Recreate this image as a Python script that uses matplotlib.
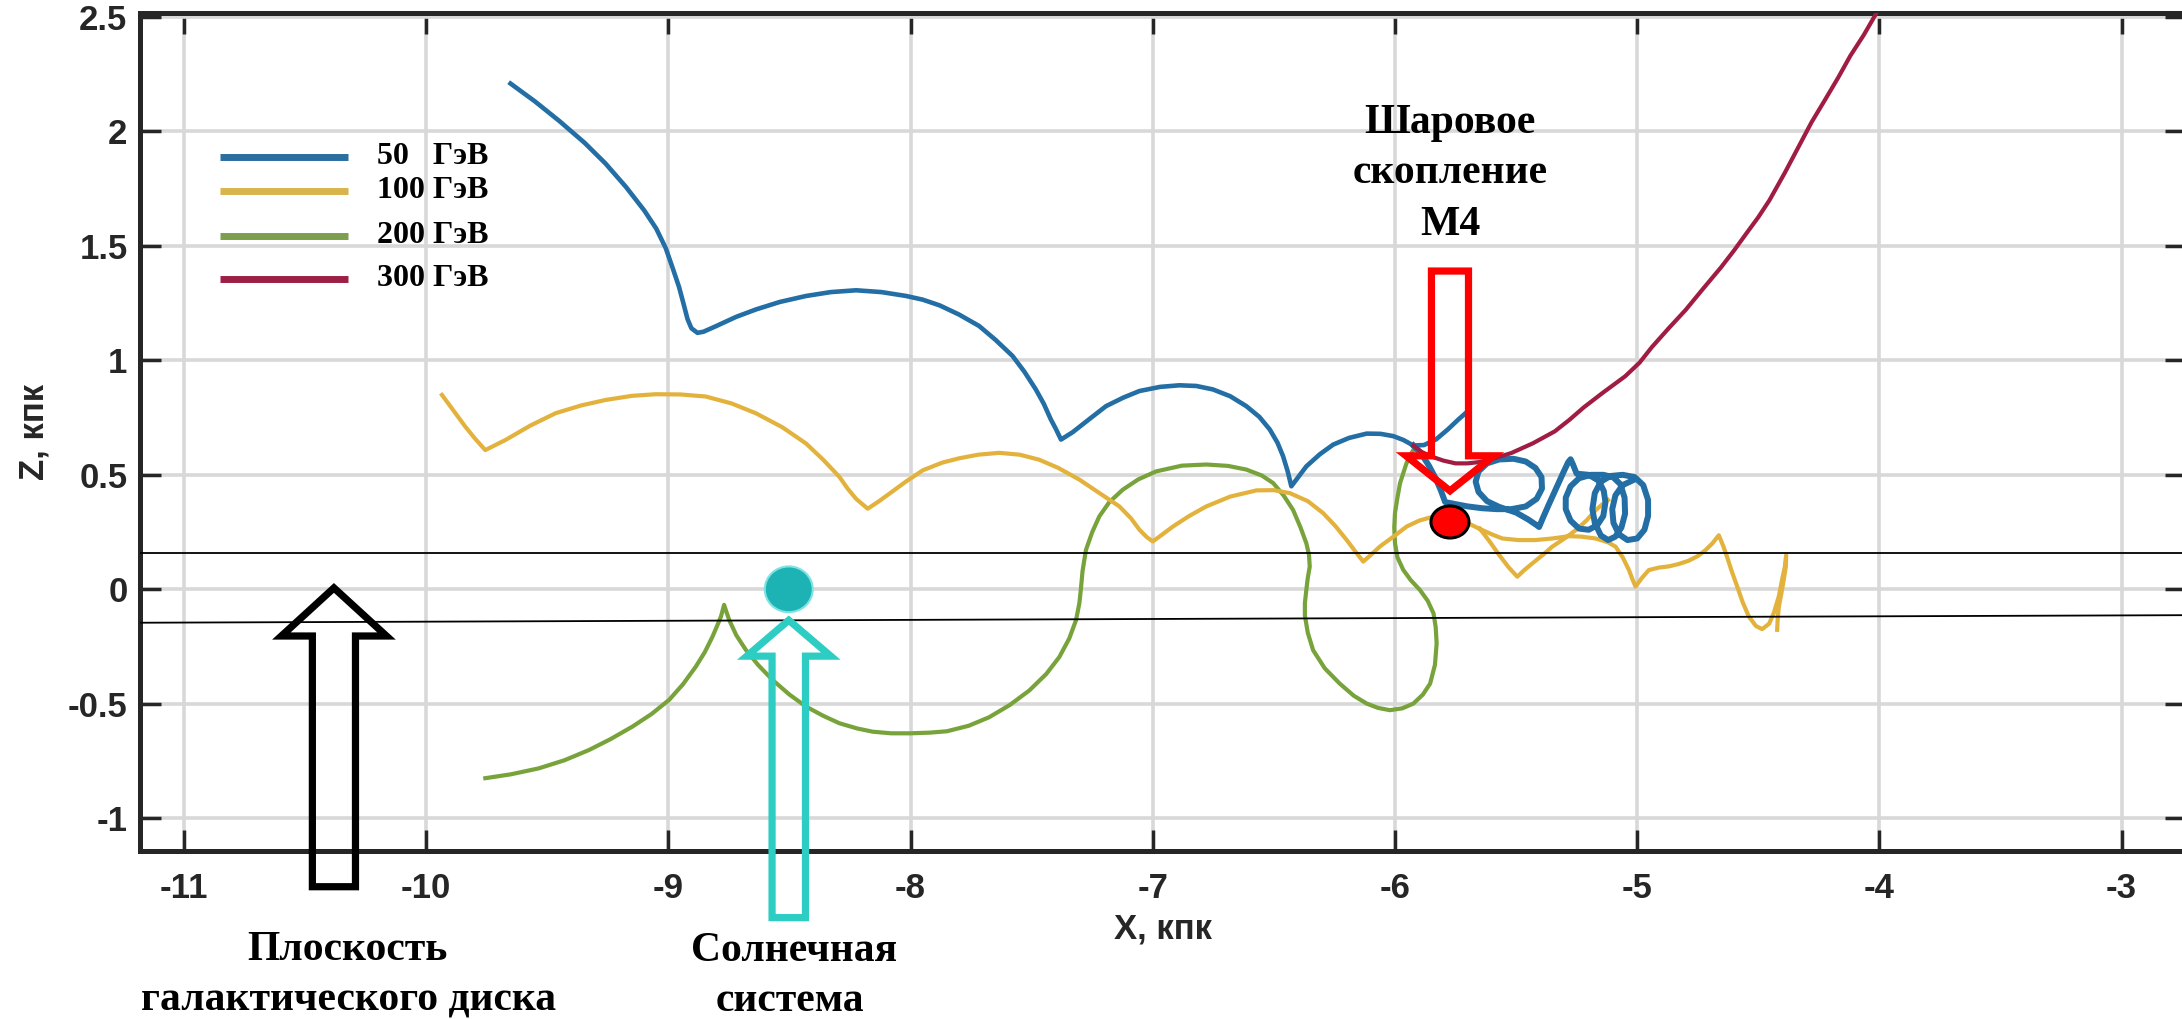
import matplotlib
matplotlib.use('Agg')
import matplotlib.pyplot as plt
import numpy as np
from matplotlib.patches import FancyArrow, Ellipse

plt.rcParams['axes.unicode_minus'] = False
plt.rcParams['font.family'] = ['Liberation Sans', 'DejaVu Sans']

nan = np.nan

# 50 GeV trajectory (x, z in kpc): arcs, then the tight loops near M4, then a short branch
x50_arcs = [-9.652, -9.550, -9.450, -9.346, -9.260, -9.175, -9.100, -9.050, -9.011, -8.983,
            -8.956, -8.937, -8.921, -8.905, -8.880, -8.855, -8.804, -8.720, -8.639, -8.540,
            -8.432, -8.330, -8.225, -8.120, -8.018, -7.950, -7.880, -7.800, -7.717, -7.650,
            -7.579, -7.530, -7.483, -7.450, -7.421, -7.400, -7.379, -7.331, -7.260, -7.193,
            -7.120, -7.055, -6.970, -6.890, -6.820, -6.752, -6.680, -6.614, -6.560, -6.517,
            -6.485, -6.462, -6.443, -6.428, -6.366, -6.310, -6.255, -6.190, -6.117, -6.060,
            -6.007, -5.965, -5.924]
z50_arcs = [2.209, 2.130, 2.045, 1.950, 1.860, 1.757, 1.655, 1.575, 1.490, 1.405,
            1.320, 1.245, 1.180, 1.140, 1.120, 1.125, 1.149, 1.190, 1.222, 1.255,
            1.281, 1.298, 1.306, 1.298, 1.281, 1.265, 1.240, 1.200, 1.150, 1.090,
            1.019, 0.950, 0.873, 0.810, 0.742, 0.700, 0.654, 0.686, 0.745, 0.800,
            0.838, 0.866, 0.884, 0.891, 0.888, 0.873, 0.843, 0.800, 0.753, 0.698,
            0.640, 0.581, 0.515, 0.450, 0.537, 0.590, 0.632, 0.661, 0.680, 0.679,
            0.669, 0.652, 0.628]
x50_loops = [-5.924, -5.890, -5.860, -5.830, -5.810, -5.793,
             -5.750, -5.700, -5.640, -5.580, -5.520, -5.460, -5.415, -5.393, -5.395, -5.420,
             -5.460, -5.510, -5.570, -5.620, -5.655, -5.667, -5.655, -5.620, -5.570, -5.500,
             -5.450, -5.415, -5.405,
             -5.390, -5.365, -5.335, -5.305, -5.285, -5.275, -5.265,
             -5.250, -5.200, -5.160, -5.138, -5.131, -5.140, -5.165, -5.200, -5.240, -5.275,
             -5.295, -5.295, -5.275, -5.240, -5.190,
             -5.140, -5.100, -5.070, -5.052, -5.050, -5.065, -5.090, -5.120, -5.150, -5.175,
             -5.185, -5.175, -5.150, -5.110,
             -5.060, -5.010, -4.975, -4.955, -4.955, -4.970, -5.000, -5.040, -5.075, -5.098,
             -5.103, -5.090, -5.060, -5.020]
z50_loops = [0.628, 0.590, 0.540, 0.480, 0.430, 0.381,
             0.372, 0.362, 0.354, 0.350, 0.350, 0.362, 0.395, 0.440, 0.490, 0.530,
             0.558, 0.570, 0.567, 0.550, 0.515, 0.470, 0.425, 0.385, 0.360, 0.335,
             0.305, 0.280, 0.272,
             0.310, 0.370, 0.440, 0.510, 0.555, 0.568, 0.545,
             0.505, 0.500, 0.475, 0.430, 0.380, 0.320, 0.280, 0.260, 0.265, 0.300,
             0.350, 0.400, 0.450, 0.485, 0.500,
             0.500, 0.490, 0.460, 0.400, 0.330, 0.270, 0.230, 0.215, 0.235, 0.290,
             0.350, 0.420, 0.470, 0.495,
             0.500, 0.490, 0.455, 0.390, 0.320, 0.260, 0.222, 0.215, 0.240, 0.290,
             0.350, 0.410, 0.455, 0.475]
x50_branch = [-5.924, -5.880, -5.830, -5.780, -5.740, -5.710]
z50_branch = [0.628, 0.630, 0.655, 0.700, 0.740, 0.768]

# 100 GeV; nan splits off the second strand near x = -5.5
x100 = [-9.935, -9.880, -9.839, -9.800, -9.756, -9.673, -9.570, -9.466, -9.360, -9.259,
        -9.150, -9.052, -8.950, -8.846, -8.740, -8.639, -8.530, -8.432, -8.360, -8.294,
        -8.260, -8.225, -8.177, -8.130, -8.087, -8.020, -7.949, -7.870, -7.800, -7.720,
        -7.634, -7.550, -7.469, -7.390, -7.303, -7.220, -7.138, -7.090, -7.055, -7.025,
        -7.000, -6.960, -6.917, -6.850, -6.779, -6.680, -6.572, -6.500, -6.434, -6.360,
        -6.297, -6.245, -6.200, -6.160, -6.131, -6.100, -6.062, -6.000, -5.952, -5.900,
        -5.840, -5.780, -5.720, -5.653, -5.600, -5.557, -5.490, -5.420, -5.350, -5.282,
        -5.230, -5.172, -5.120, -5.089, -5.060, -5.034, -5.020, -5.007, -4.980, -4.952,
        -4.910, -4.870, -4.830, -4.787, -4.750, -4.718, -4.690, -4.663, -4.645, -4.629,
        -4.610, -4.587, -4.565, -4.539, -4.510, -4.484, -4.455, -4.436, -4.415, -4.402,
        -4.390, -4.385, -4.386, -4.395, -4.405, -4.415, -4.420, -4.422,
        nan, -5.650, -5.610, -5.570, -5.530, -5.495, -5.465, -5.433, -5.390, -5.351,
        -5.300, -5.254, -5.210, -5.172, -5.140, -5.120]
z100 = [0.849, 0.770, 0.711, 0.660, 0.608, 0.652, 0.715, 0.769, 0.803, 0.827,
        0.845, 0.852, 0.851, 0.842, 0.812, 0.769, 0.708, 0.637, 0.565, 0.491,
        0.440, 0.395, 0.352, 0.385, 0.418, 0.470, 0.520, 0.553, 0.572, 0.588,
        0.596, 0.588, 0.566, 0.530, 0.479, 0.420, 0.362, 0.310, 0.260, 0.228,
        0.209, 0.240, 0.274, 0.320, 0.362, 0.405, 0.432, 0.433, 0.420, 0.385,
        0.333, 0.275, 0.216, 0.160, 0.121, 0.150, 0.187, 0.235, 0.274, 0.300,
        0.318, 0.320, 0.300, 0.265, 0.240, 0.222, 0.215, 0.215, 0.222, 0.232,
        0.230, 0.222, 0.205, 0.186, 0.140, 0.084, 0.045, 0.012, 0.050, 0.084,
        0.095, 0.100, 0.110, 0.125, 0.145, 0.171, 0.200, 0.236, 0.190, 0.142,
        0.080, 0.012, -0.055, -0.119, -0.160, -0.174, -0.150, -0.104, -0.030, 0.041,
        0.100, 0.149, 0.100, 0.041, -0.020, -0.075, -0.130, -0.177,
        nan, 0.265, 0.210, 0.150, 0.095, 0.055, 0.085, 0.113, 0.150, 0.186,
        0.222, 0.258, 0.300, 0.345, 0.375, 0.390]

# 200 GeV
x200 = [-9.756, -9.650, -9.535, -9.430, -9.328, -9.240, -9.149, -9.070, -8.997, -8.940,
        -8.887, -8.850, -8.818, -8.795, -8.783, -8.770, -8.760, -8.749, -8.720, -8.680,
        -8.630, -8.570, -8.500, -8.432, -8.360, -8.294, -8.220, -8.156, -8.080, -8.000,
        -7.920, -7.850, -7.760, -7.676, -7.590, -7.510, -7.440, -7.386, -7.345, -7.317,
        -7.303, -7.297, -7.290, -7.276, -7.250, -7.221, -7.180, -7.124, -7.060, -6.986,
        -6.880, -6.779, -6.690, -6.614, -6.550, -6.503, -6.460, -6.421, -6.390, -6.366,
        -6.355, -6.352, -6.360, -6.366, -6.372, -6.372, -6.360, -6.338, -6.290, -6.228,
        -6.170, -6.117, -6.070, -6.021, -5.970, -5.924, -5.885, -5.855, -5.835, -5.828,
        -5.832, -5.841, -5.865, -5.897, -5.935, -5.966, -5.990, -6.000, -6.003, -6.000,
        -5.990, -5.979, -5.965, -5.952, -5.935, -5.920]
z200 = [-0.825, -0.808, -0.782, -0.747, -0.702, -0.655, -0.600, -0.545, -0.483, -0.415,
        -0.338, -0.275, -0.207, -0.150, -0.119, -0.068, -0.100, -0.134, -0.200, -0.265,
        -0.330, -0.396, -0.460, -0.512, -0.553, -0.585, -0.608, -0.622, -0.629, -0.629,
        -0.626, -0.620, -0.596, -0.559, -0.505, -0.442, -0.370, -0.296, -0.215, -0.135,
        -0.060, 0.000, 0.080, 0.172, 0.250, 0.318, 0.380, 0.435, 0.480, 0.515,
        0.540, 0.545, 0.539, 0.523, 0.497, 0.464, 0.410, 0.347, 0.270, 0.201,
        0.150, 0.099, 0.050, -0.002, -0.060, -0.115, -0.190, -0.266, -0.345, -0.412,
        -0.465, -0.499, -0.518, -0.528, -0.520, -0.499, -0.460, -0.412, -0.330, -0.236,
        -0.165, -0.105, -0.050, -0.003, 0.040, 0.085, 0.140, 0.201, 0.270, 0.333,
        0.400, 0.464, 0.510, 0.552, 0.590, 0.615]

# 300 GeV
x300 = [-5.924, -5.890, -5.850, -5.800, -5.750, -5.700, -5.650, -5.590, -5.520, -5.430,
        -5.340, -5.280, -5.220, -5.140, -5.050, -4.990, -4.940, -4.870, -4.800, -4.730,
        -4.654, -4.600, -4.550, -4.500, -4.454, -4.390, -4.330, -4.280, -4.226, -4.170,
        -4.120, -4.065, -4.013, -3.990]
z300 = [0.628, 0.600, 0.580, 0.562, 0.550, 0.550, 0.556, 0.572, 0.595, 0.638,
        0.690, 0.740, 0.795, 0.860, 0.930, 0.990, 1.057, 1.140, 1.220, 1.310,
        1.406, 1.480, 1.553, 1.625, 1.699, 1.820, 1.940, 2.040, 2.135, 2.235,
        2.330, 2.420, 2.515, 2.560]

energies = ['50   ГэВ', '100 ГэВ', '200 ГэВ', '300 ГэВ']
line_colors = ['#236fa5', '#e3b23c', '#77a33a', '#a01c43']
legend_colors = ['#2a6fa0', '#d8b44c', '#7b9f4c', '#9c2045']

xticks = [-11, -10, -9, -8, -7, -6, -5, -4, -3]
yticks = [-1, -0.5, 0, 0.5, 1, 1.5, 2, 2.5]
xtick_labels = ['-11', '-10', '-9', '-8', '-7', '-6', '-5', '-4', '-3']
ytick_labels = ['-1', '-0.5', '0', '0.5', '1', '1.5', '2', '2.5']

sun_x, sun_z = -8.503, 0.0
m4_x, m4_z = -5.773, 0.294

W, H = 2182, 1019
fig = plt.figure(figsize=(W / 100, H / 100), dpi=100)
ax = fig.add_axes([140 / W, 1 - 851 / H, 2046 / W, 838 / H])
ax.set_xlim(-11.1817, -2.734)
ax.set_ylim(-1.143, 2.517)

ax.grid(True, color='#d8d8d8', lw=2.6)
ax.set_axisbelow(True)
for s in ax.spines.values():
    s.set_linewidth(3.6)
    s.set_color('#262626')

tick_font = ['Liberation Sans Narrow', 'Liberation Sans', 'DejaVu Sans']
ax.set_xticks(xticks)
ax.set_xticklabels(xtick_labels)
ax.set_yticks(yticks)
ax.set_yticklabels(ytick_labels)
ax.tick_params(direction='in', length=15, width=2.5, color='#262626',
               top=True, right=True, labelsize=25, labelcolor='#262626')
ax.tick_params(axis='x', pad=15)
ax.tick_params(axis='y', pad=9)
for lab in ax.get_xticklabels() + ax.get_yticklabels():
    lab.set_fontweight('bold')
    lab.set_family(tick_font)

ax.set_xlabel('X, кпк', fontsize=25, fontweight='bold', color='#262626')
ax.set_ylabel('Z, кпк', fontsize=25, fontweight='bold', color='#262626')
ax.xaxis.set_label_coords(0.5, -0.0925)
ax.xaxis.label.set_va('center')
ax.yaxis.set_label_coords(-0.052, 0.5)
ax.yaxis.label.set_va('center')

# trajectories
ax.plot(x200, z200, color=line_colors[2], lw=3, zorder=3)
ax.plot(x100, z100, color=line_colors[1], lw=3, zorder=3)
ax.plot(x50_arcs, z50_arcs, color=line_colors[0], lw=3.3, zorder=3)
ax.plot(x50_branch, z50_branch, color=line_colors[0], lw=3.3, zorder=3)
ax.plot(x50_loops, z50_loops, color=line_colors[0], lw=4.3, zorder=3)
ax.plot(x300, z300, color=line_colors[3], lw=3, zorder=3)

# legend drawn by hand, no frame
leg_y = [0.8282, 0.7876, 0.7339, 0.6826]
for c, lab, yy in zip(legend_colors, energies, leg_y):
    ax.plot([0.0391, 0.1017], [yy, yy], color=c, lw=5, transform=ax.transAxes,
            solid_capstyle='butt', zorder=5)
    ax.text(0.1158, yy, lab, transform=ax.transAxes, fontsize=23, fontweight='bold',
            family='Liberation Serif', va='center', ha='left', zorder=5)

# galactic disk boundaries
xl = ax.get_xlim()
ax.plot(xl, [0.160, 0.160], color='black', lw=1.3, zorder=4)
ax.plot(xl, [-0.146, -0.113], color='black', lw=1.3, zorder=4)

# solar system and M4
ax.add_patch(Ellipse((sun_x, sun_z), 0.198, 0.20, fc='#1db3b5', ec='#7fe3e3',
                     lw=1.5, zorder=5))

arrows = [
    # x, tail, tip, shaft width, head width, head length, colour
    (-10.381, -1.299, 0.006, 0.178, 0.434, 0.21, 'black'),
    (-8.503, -1.434, -0.135, 0.138, 0.347, 0.157, '#2dcdc3'),
    (-5.773, 1.390, 0.430, 0.153, 0.363, 0.153, '#ff0000'),
]
for ax_x, y0, y1, w, hw, hl, c in arrows:
    a = FancyArrow(ax_x, y0, 0, y1 - y0, width=w, head_width=hw, head_length=hl,
                   length_includes_head=True, fill=False, ec=c, lw=5.2,
                   joinstyle='miter', zorder=6)
    a.set_clip_on(False)
    ax.add_patch(a)

ax.add_patch(Ellipse((m4_x, m4_z), 0.157, 0.14, fc='#ff0000', ec='black', lw=2.2,
                     zorder=7))

# captions
cap = dict(fontsize=30, fontweight='bold', family='Liberation Serif',
           ha='center', va='baseline', color='black')
fig.text(347 / W, 1 - 960 / H, 'Плоскость', **cap)
fig.text(349 / W, 1 - 1011 / H, 'галактического диска', **cap)
fig.text(794 / W, 1 - 961 / H, 'Солнечная', **cap)
fig.text(790 / W, 1 - 1011 / H, 'система', **cap)
fig.text(1450 / W, 1 - 133 / H, 'Шаровое', **cap)
fig.text(1450 / W, 1 - 183 / H, 'скопление', **cap)
fig.text(1450 / W, 1 - 235 / H, 'М4', **cap)

fig.savefig('out.png', dpi=100)
